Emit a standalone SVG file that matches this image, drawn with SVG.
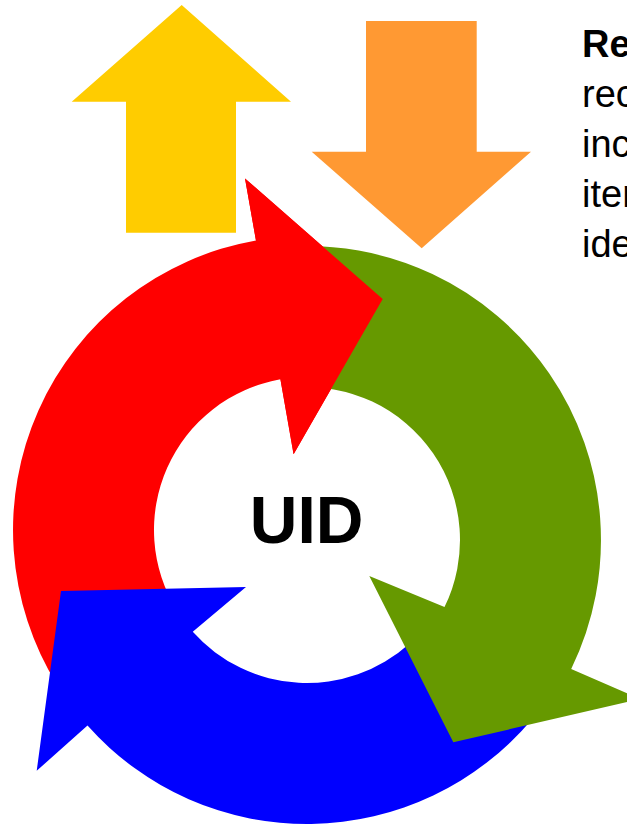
<svg xmlns="http://www.w3.org/2000/svg" xmlns:xlink="http://www.w3.org/1999/xlink" width="627" height="825" viewBox="0 0 627 825">
  <style>
    .yellow { fill: #FFCC00; }
    .orange { fill: #FF9933; }
    .red { fill: #FF0000; }
    .blue { fill: #0000FF; }
    .green { fill: #669900; }
    .label { font-family: "Liberation Sans", Arial, sans-serif; font-weight: bold; fill: #000000; }
    .side { font-family: "Liberation Sans", Arial, sans-serif; font-size: 38px; fill: #000000; }
    .b { font-weight: bold; }
  </style>
  <defs>
    <polygon id="redHead" points="245,178.4 382.7,299 293.6,454.2"/>
  </defs>
  <rect x="0" y="0" width="627" height="825" fill="#FFFFFF"/>

  <g id="up-arrow">
    <polygon class="yellow" points="181.7,5 291,101.7 236,101.7 236,232.7 126,232.7 126,101.7 71.7,101.7"/>
  </g>
  <g id="down-arrow">
    <polygon class="orange" points="366,21 476.7,21 476.7,151.7 531,151.7 421.7,248.3 311.7,151.7 366,151.7"/>
  </g>

  <g id="connectors">
    <g id="cycle-red">
      <path class="red" d="M57.7,685.8 A294,294 0 0 1 255.95,240.47 L245,178.4 L382.7,299 L293.6,454.2 L280.43,379.32 A153,153 0 0 0 177.25,611.1 Z"/>
    </g>
    <g id="cycle-blue">
      <path class="blue" d="M532.22,718.98 A294,294 0 0 1 87.5,725.6 L36.7,770.8 L61,591 L246,587 L192.76,631.78 A153,153 0 0 0 409.38,643.7 Z"/>
    </g>
    <g id="cycle-green">
      <path class="green" d="M281.38,247.12 A294,294 0 0 1 571.2,668.9 L640,699 L453.3,742.3 L369.3,576 L444.5,607.1 A153,153 0 0 0 293.66,387.58 Z"/>
    </g>
    <use xlink:href="#redHead" href="#redHead" class="red"/>
  </g>

  <g id="uid">
    <text class="label" x="306.7" y="542.5" font-size="66" text-anchor="middle">UID</text>
  </g>

  <g id="side-text">
    <text class="side b" x="582" y="57">Re</text>
    <text class="side" x="582" y="107">rec</text>
    <text class="side" x="582" y="157">inc</text>
    <text class="side" x="582" y="207">item</text>
    <text class="side" x="582" y="257">ide</text>
  </g>
</svg>
